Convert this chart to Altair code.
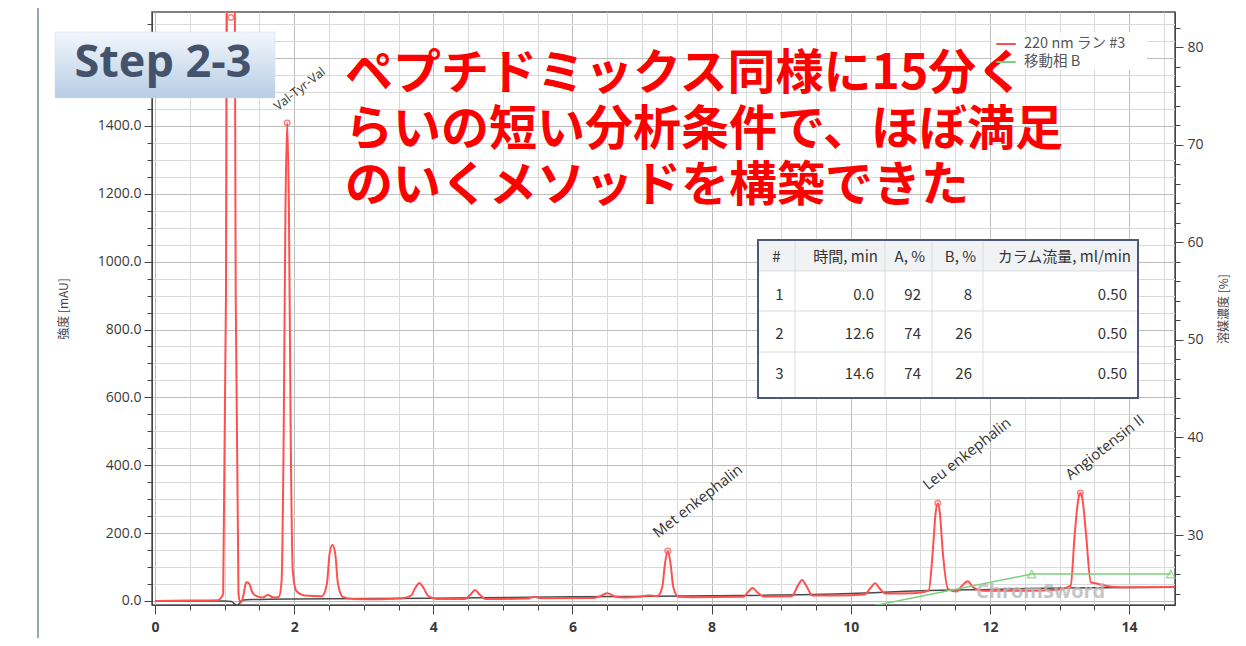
import altair as alt
import pandas as pd

# ---------------- data ----------------
red_time = [0.0, 0.5, 0.9, 0.98, 1.02, 1.05, 1.09, 1.13, 1.16, 1.2, 1.23, 1.27, 1.31, 1.35, 1.4, 1.46,
            1.55, 1.62, 1.7, 1.78, 1.82, 1.85, 1.875, 1.9, 1.925, 1.95, 1.98, 2.03, 2.15, 2.4, 2.47,
            2.51, 2.55, 2.59, 2.63, 2.7, 2.85, 3.2, 3.55, 3.68, 3.74, 3.8, 3.86, 3.93, 4.05, 4.45,
            4.54, 4.6, 4.66, 4.75, 5.0, 5.35, 5.45, 5.55, 6.3, 6.42, 6.5, 6.6, 6.75, 6.95, 7.1, 7.22,
            7.29, 7.33, 7.37, 7.41, 7.45, 7.52, 7.7, 8.45, 8.53, 8.59, 8.66, 8.75, 9.15, 9.24, 9.3,
            9.36, 9.45, 9.8, 10.2, 10.29, 10.35, 10.41, 10.5, 10.9, 11.12, 11.18, 11.22, 11.25, 11.28,
            11.32, 11.4, 11.52, 11.6, 11.68, 11.76, 11.9, 12.5, 13.0, 13.16, 13.22, 13.27, 13.3,
            13.33, 13.38, 13.45, 13.52, 13.6, 13.75, 14.0, 14.66]
red_mau = [0, 1, 2, 20, 900, 3000, 4800, 3000, 900, 20, -6, 15, 55, 52, 25, 14,
           10, 18, 10, 12, 60, 500, 1150, 1409, 1150, 500, 90, 30, 16, 14, 50,
           140, 165, 140, 50, 12, 6, 5, 8, 16, 38, 53, 38, 14, 6, 6,
           20, 32, 20, 6, 6, 7, 12, 8, 9, 16, 23, 14, 10, 12, 16, 14,
           40, 110, 147, 110, 40, 12, 11, 12, 28, 38, 25, 13, 14, 45, 62,
           45, 16, 16, 19, 40, 52, 38, 22, 23, 30, 150, 260, 288, 260,
           150, 35, 28, 45, 58, 40, 30, 30, 34, 45, 200, 300, 318,
           300, 200, 55, 52, 48, 42, 40, 41]

base_time = [0.0, 1.0, 1.1, 1.18, 1.25, 1.4, 2.0, 4.0, 6.0, 8.0, 10.0, 11.0, 12.0, 13.0, 14.66]
base_mau = [0, 0, -2, -14, 2, 4, 6, 8, 12, 15, 22, 30, 34, 38, 40]

peak_time = [1.09, 1.9, 7.37, 11.25, 13.3]
peak_mau = [1720, 1409, 147, 288, 318]
peak_name = ["", "Val-Tyr-Val", "Met enkephalin", "Leu enkephalin", "Angiotensin II"]

prog_step = ["1", "2", "3"]
prog_time = [0.0, 12.6, 14.6]
prog_A = [92, 74, 74]
prog_B = [8, 26, 26]
prog_flow = [0.50, 0.50, 0.50]
table_headers = ["#", "時間, min", "A, %", "B, %", "カラム流量, ml/min"]

series_names = ["220 nm ラン #3", "移動相 B"]
message_lines = ["ペプチドミックス同様に15分く",
                 "らいの短い分析条件で、ほぼ満足",
                 "のいくメソッドを構築できた"]
step_label = "Step 2-3"
watermark = "ChromSword"

x_minor_ticks = [v / 2 for v in range(0, 30)]
y_left_ticks = list(range(0, 1701, 50))
y_right_ticks = list(range(24, 83, 2))

# ---------------- styling / layout ----------------
RED = "#ff5050"
GREEN = "#7ccf7c"
GRAY = "#4a4a4a"
W, H = 1023, 593
FONT = "Open Sans"
JFONT = "Noto Sans CJK JP"
MAJOR_GRID = "#bdbdbd"
MINOR_GRID = "#dadada"

red_df = pd.DataFrame({"t": red_time, "v": red_mau, "series": series_names[0]})
base_df = pd.DataFrame({"t": base_time, "v": base_mau})
peak_df = pd.DataFrame({"t": peak_time, "v": peak_mau, "name": peak_name})
prog_df = pd.DataFrame({"t": prog_time, "b": prog_B, "series": series_names[1]})

x_enc = alt.X(
    "t:Q", title="時間 [min]",
    scale=alt.Scale(domain=[-0.043, 14.66], nice=False, zero=False),
    axis=alt.Axis(
        values=x_minor_ticks,
        labelExpr="datum.value % 2 === 0 ? format(datum.value, 'd') : ''",
        grid=True,
        gridColor={"condition": {"test": "datum.value % 2 === 0", "value": MAJOR_GRID}, "value": MINOR_GRID},
        tickSize={"condition": {"test": "datum.value % 2 === 0", "value": 9}, "value": 5},
        tickColor="#444", domainColor="#444", labelPadding=6, labelFlush=False, labelOverlap=False,
        labelFontSize=14, labelFontWeight="bold", labelColor="#3a3a3a", labelFont=FONT,
        titleFont=JFONT, titleFontSize=13, titleFontWeight="normal", titleColor="#444", titlePadding=6,
    ),
)
y_left = alt.Y(
    "v:Q", title="強度 [mAU]",
    scale=alt.Scale(domain=[-12, 1736], nice=False, zero=False),
    axis=alt.Axis(
        values=y_left_ticks, labelExpr="datum.value % 200 === 0 ? format(datum.value, '.1f') : ''",
        grid=True,
        gridColor={"condition": {"test": "datum.value % 200 === 0", "value": MAJOR_GRID}, "value": MINOR_GRID},
        tickSize={"condition": {"test": "datum.value % 200 === 0", "value": 8}, "value": 5},
        tickColor="#444", domainColor="#444", labelPadding=3, labelOverlap=False, labelFlush=False,
        labelFontSize=14, labelColor="#3a3a3a", labelFont=FONT,
        titleFont=JFONT, titleFontSize=12, titleFontWeight="normal", titleColor="#444",
        titleX=-82, titleAngle=270,
    ),
)
y_right = alt.Y(
    "b:Q", title="溶媒濃度 [%]",
    scale=alt.Scale(domain=[22.83, 83.6], nice=False, zero=False),
    axis=alt.Axis(
        orient="right", values=y_right_ticks,
        labelExpr="datum.value % 10 === 0 ? datum.label : ''", grid=False,
        tickSize={"condition": {"test": "datum.value % 10 === 0", "value": 8}, "value": 5},
        tickColor="#444", domainColor="#444", labelPadding=4, labelOverlap=False, labelFlush=False,
        labelFontSize=14, labelColor="#3a3a3a", labelFont=FONT,
        titleFont=JFONT, titleFontSize=12, titleFontWeight="normal", titleColor="#444",
        titleX=55, titleAngle=270,
    ),
)
color_enc = alt.Color(
    "series:N",
    scale=alt.Scale(domain=series_names, range=[RED, GREEN]),
    legend=alt.Legend(
        title=None, orient="none", legendX=840, legendY=18, symbolType="stroke",
        symbolStrokeWidth=2, symbolSize=380, labelFont=JFONT, labelFontSize=14.5,
        labelColor="#555", padding=3, rowPadding=0, labelOffset=7,
    ),
)

red_line = alt.Chart(red_df).mark_line(clip=True, strokeWidth=2, interpolate="monotone").encode(
    x=x_enc, y=y_left, color=color_enc)
base_line = alt.Chart(base_df).mark_line(clip=True, strokeWidth=1.5, color=GRAY,
                                          interpolate="monotone").encode(x=x_enc, y=y_left)
markers = alt.Chart(peak_df).mark_point(shape="circle", filled=False, color=RED, size=30,
                                        strokeWidth=1.5).encode(x=x_enc, y=y_left)
lab_small = alt.Chart(peak_df).transform_filter("datum.name === 'Val-Tyr-Val'").mark_text(
    angle=322, align="left", baseline="bottom", dy=-12, fontSize=12.5, font=FONT, color="#333"
).encode(x=x_enc, y=y_left, text="name:N")
lab_big = alt.Chart(peak_df).transform_filter(
    "datum.name !== 'Val-Tyr-Val' && datum.name !== ''").mark_text(
    angle=322, align="left", baseline="bottom", dy=-13, fontSize=15, font=FONT, color="#333"
).encode(x=x_enc, y=y_left, text="name:N")

left_group = alt.layer(base_line, red_line, markers, lab_small, lab_big)

green_line = alt.Chart(prog_df).mark_line(clip=True, strokeWidth=1.5).encode(
    x=x_enc, y=y_right, color=color_enc)
tris = alt.Chart(prog_df).transform_filter("datum.t > 10").mark_point(
    shape="triangle-up", filled=False, color=GREEN, size=70, strokeWidth=1.5
).encode(x=x_enc, y=y_right)
right_group = alt.layer(green_line, tris)

# ---------------- overlays (pixel positions relative to plot area) ----------------
def px(field):
    return alt.X(field + ":Q", scale=None, axis=None, title=None)


def py(field):
    return alt.Y(field + ":Q", scale=None, axis=None, title=None)


one = pd.DataFrame({"k": [0]})

legend_bg = alt.Chart(one).mark_rect(fill="white").encode(
    x=alt.value(840), x2=alt.value(995), y=alt.value(20), y2=alt.value(58))

frame_line = alt.Chart(one).mark_rule(color="#9aa4b6", strokeWidth=2).encode(
    x=alt.value(-114), y=alt.value(-6), y2=alt.value(H + 40))

step_box = alt.Chart(one).mark_rect(
    fill=alt.Gradient(gradient="linear",
                      stops=[alt.GradientStop(color="#f3f7fc", offset=0),
                             alt.GradientStop(color="#b7cde6", offset=1)],
                      x1=0, x2=0, y1=0, y2=1),
    stroke="#d0dbe8", strokeWidth=0.5,
).encode(x=alt.value(-97), x2=alt.value(123), y=alt.value(20), y2=alt.value(86))
step_text = alt.Chart(pd.DataFrame({"s": [step_label]})).mark_text(
    font=FONT, fontSize=45, fontWeight="bold", color="#44536b", align="center", baseline="middle"
).encode(x=alt.value(11), y=alt.value(51), text="s:N")

msg_df = pd.DataFrame({"s": message_lines, "py": [63 + 56 * i for i in range(len(message_lines))],
                       "px": [193] * len(message_lines)})
msg = alt.Chart(msg_df).mark_text(
    font=JFONT, fontSize=48, fontWeight="bold", color="#ff0000", align="left", baseline="middle"
).encode(x=px("px"), y=py("py"), text="s:N")

wm = alt.Chart(pd.DataFrame({"s": [watermark]})).mark_text(
    font=FONT, fontSize=20, fontWeight="bold", color="#b8b8b8", opacity=0.8, align="left",
    baseline="middle"
).encode(x=alt.value(824), y=alt.value(580), text="s:N")

# table
col_edges = [606, 643, 733, 780, 831, 986]
row_top = [229, 259, 299, 340, 385]
head_y = 245
row_y = [283, 322, 362]

table_box = alt.Chart(one).mark_rect(fill="white", stroke="#4b5878", strokeWidth=2).encode(
    x=alt.value(col_edges[0]), x2=alt.value(col_edges[-1]), y=alt.value(228), y2=alt.value(386))
head_bg = alt.Chart(one).mark_rect(fill="#f1f2f4").encode(
    x=alt.value(col_edges[0] + 1), x2=alt.value(col_edges[-1] - 1),
    y=alt.value(row_top[0]), y2=alt.value(row_top[1]))

vsep = pd.DataFrame({"px": col_edges[1:-1], "py": [row_top[0]] * 4, "py2": [row_top[-1]] * 4})
hsep = pd.DataFrame({"px": [col_edges[0] + 1] * 3, "px2": [col_edges[-1] - 1] * 3, "py": row_top[1:4]})
vlines = alt.Chart(vsep).mark_rule(color="#dcdcdc", strokeWidth=1).encode(
    x=px("px"), y=py("py"), y2=alt.Y2("py2:Q"))
hlines = alt.Chart(hsep).mark_rule(color="#dcdcdc", strokeWidth=1).encode(
    x=px("px"), x2=alt.X2("px2:Q"), y=py("py"))

cells_c, cells_r = [], []
cells_c.append({"s": table_headers[0], "px": (col_edges[0] + col_edges[1]) / 2, "py": head_y})
for j in range(1, 5):
    cells_r.append({"s": table_headers[j], "px": col_edges[j + 1] - 7, "py": head_y})
for i in range(len(prog_step)):
    cells_c.append({"s": prog_step[i], "px": (col_edges[0] + col_edges[1]) / 2 + 3, "py": row_y[i]})
    vals = [f"{prog_time[i]:.1f}", f"{prog_A[i]}", f"{prog_B[i]}", f"{prog_flow[i]:.2f}"]
    for j, s in enumerate(vals):
        cells_r.append({"s": s, "px": col_edges[j + 2] - 11, "py": row_y[i]})

tab_c = alt.Chart(pd.DataFrame(cells_c)).mark_text(
    font=JFONT, fontSize=15, color="#333", align="center", baseline="middle"
).encode(x=px("px"), y=py("py"), text="s:N")
tab_r = alt.Chart(pd.DataFrame(cells_r)).mark_text(
    font=JFONT, fontSize=15, color="#333", align="right", baseline="middle"
).encode(x=px("px"), y=py("py"), text="s:N")

chart = alt.layer(
    legend_bg, left_group, right_group, frame_line, wm, step_box, step_text, msg,
    table_box, head_bg, vlines, hlines, tab_c, tab_r,
).resolve_scale(y="independent").properties(
    width=W, height=H,
    padding={"left": 144, "top": 4, "right": 60, "bottom": 33},
    autosize=alt.AutoSizeParams(type="none"),
    background="white",
).configure_view(stroke="#555", strokeWidth=1.5)

chart.save("out.html", embed_options={"renderer": "svg", "actions": False})
